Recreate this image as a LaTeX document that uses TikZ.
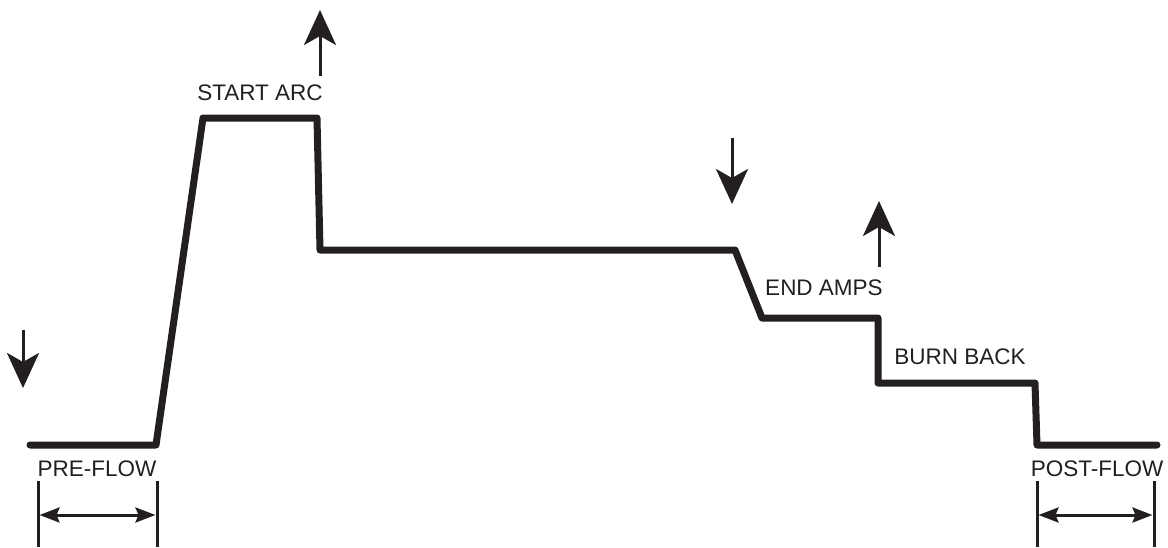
\documentclass[tikz,border=0pt]{standalone}
\usepackage{fontspec}
\setmainfont{Liberation Sans}
\usetikzlibrary{arrows.meta}
\definecolor{ink}{HTML}{231F20}
\begin{document}
\begin{tikzpicture}[x=1pt,y=-1pt,
  curve/.style={draw=ink,line width=7pt,line join=round,line cap=round},
  bigarrow/.style={draw=ink,line width=3pt,-{Stealth[length=35pt,width=32pt,inset=9pt]}},
  dimline/.style={draw=ink,line width=3pt},
  dimarrow/.style={draw=ink,line width=3pt,{Stealth[length=20pt,width=15pt,inset=3pt]}-{Stealth[length=20pt,width=15pt,inset=3pt]}},
  lbl/.style={text=ink,font=\fontsize{22.5}{26}\selectfont,inner sep=0pt,anchor=base}]
\useasboundingbox (0,0) rectangle (1168,547);
% main waveform
\coordinate (p0) at (30,445);
\coordinate (p1) at (156,445);
\coordinate (p2) at (203,118);
\coordinate (p3) at (317,118);
\coordinate (p4) at (320,250);
\coordinate (p5) at (735,250);
\coordinate (p6) at (762,318);
\coordinate (p7) at (878,318);
\coordinate (p8) at (878,383);
\coordinate (p9) at (1035,383);
\coordinate (p10) at (1037,445);
\coordinate (p11) at (1157,445);
\draw[curve] (p0) -- (p1) -- (p2) -- (p3) -- (p4) -- (p5) -- (p6) -- (p7) -- (p8) -- (p9) -- (p10) -- (p11);
% arrows
\coordinate (a1s) at (23,330); \coordinate (a1e) at (23,388);
\draw[bigarrow] (a1s) -- (a1e);
\coordinate (a2s) at (320,76); \coordinate (a2e) at (320,10);
\draw[bigarrow] (a2s) -- (a2e);
\coordinate (a3s) at (732,138); \coordinate (a3e) at (732,204);
\draw[bigarrow] (a3s) -- (a3e);
\coordinate (a4s) at (879,267); \coordinate (a4e) at (879,201);
\draw[bigarrow] (a4s) -- (a4e);
% labels
\node[lbl] (start) at (260,100) {START ARC};
\node[lbl] (endamps) at (824,295) {END AMPS};
\node[lbl] (burn) at (960,364) {BURN BACK};
\node[lbl] (pre) at (97,476) {PRE-FLOW};
\node[lbl] (post) at (1097,476) {POST-FLOW};
% dimension lines
\coordinate (d1t) at (38,481); \coordinate (d1b) at (38,547);
\coordinate (d2t) at (157,481); \coordinate (d2b) at (157,547);
\coordinate (d3t) at (1037,481); \coordinate (d3b) at (1037,547);
\coordinate (d4t) at (1154,481); \coordinate (d4b) at (1154,547);
\draw[dimline] (d1t) -- (d1b);
\draw[dimline] (d2t) -- (d2b);
\draw[dimline] (d3t) -- (d3b);
\draw[dimline] (d4t) -- (d4b);
\coordinate (h1) at (39.5,515); \coordinate (h2) at (155.5,515);
\coordinate (h3) at (1038.5,515); \coordinate (h4) at (1152.5,515);
\draw[dimarrow] (h1) -- (h2);
\draw[dimarrow] (h3) -- (h4);
\end{tikzpicture}
\end{document}
